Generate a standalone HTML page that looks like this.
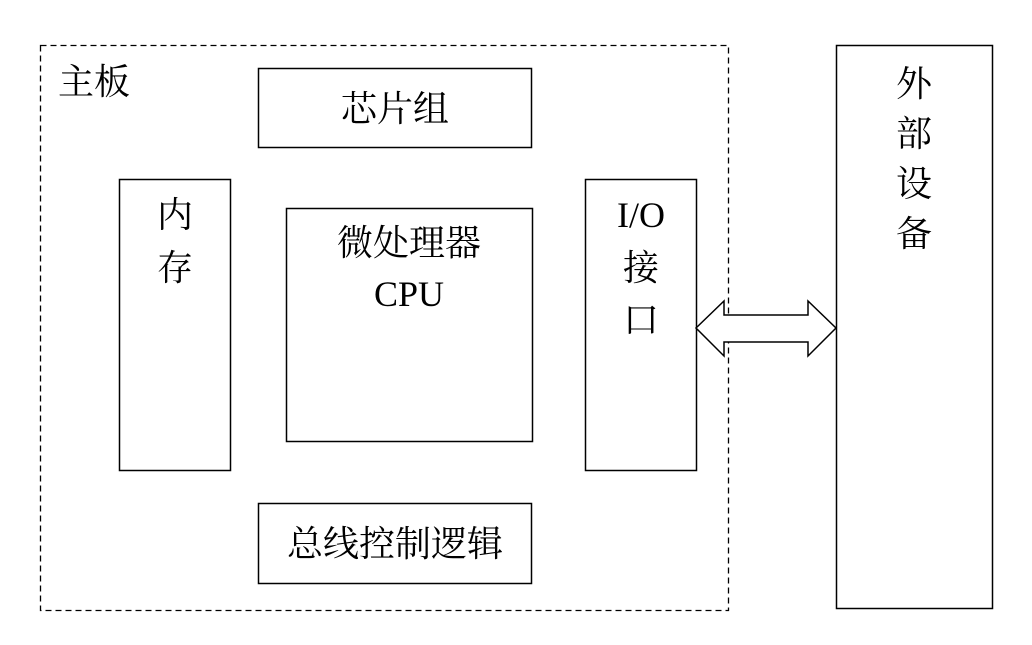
<!DOCTYPE html>
<html><head><meta charset="utf-8"><style>
html,body{margin:0;padding:0;background:#fff;}
svg text{font-family:"Liberation Serif","Noto Serif CJK SC",serif;font-size:36px;fill:#000;}
</style></head><body>
<svg width="1032" height="640" viewBox="0 0 1032 640" xmlns="http://www.w3.org/2000/svg">
<rect x="40.5" y="45.5" width="688" height="565" fill="none" stroke="#000" stroke-width="1.3" stroke-dasharray="6,4"/>
<text x="58" y="94">主板</text>
<g fill="none" stroke="#000" stroke-width="1.5">
<rect x="258.5" y="68.5" width="273" height="79"/>
<rect x="119.5" y="179.5" width="111" height="291"/>
<rect x="286.5" y="208.5" width="246" height="233"/>
<rect x="585.5" y="179.5" width="111" height="291"/>
<rect x="258.5" y="503.5" width="273" height="80"/>
<rect x="836.5" y="45.5" width="156" height="563"/>
</g>
<polygon points="696,328 724,301 724,315 808,315 808,301 836,328 808,356 808,342 724,342 724,356" fill="#fff" stroke="#000" stroke-width="1.5"/>
<text x="395" y="121" text-anchor="middle">芯片组</text>
<text x="175" y="227" text-anchor="middle">内</text>
<text x="175" y="280" text-anchor="middle">存</text>
<text x="409" y="255" text-anchor="middle">微处理器</text>
<text x="409" y="306" text-anchor="middle">CPU</text>
<text x="641" y="227" text-anchor="middle">I/O</text>
<text x="641" y="280" text-anchor="middle">接</text>
<text x="641" y="332" text-anchor="middle">口</text>
<text x="395" y="556" text-anchor="middle">总线控制逻辑</text>
<text x="914" y="96" text-anchor="middle">外</text>
<text x="914" y="146" text-anchor="middle">部</text>
<text x="914" y="196" text-anchor="middle">设</text>
<text x="914" y="246" text-anchor="middle">备</text>
</svg>
</body></html>
